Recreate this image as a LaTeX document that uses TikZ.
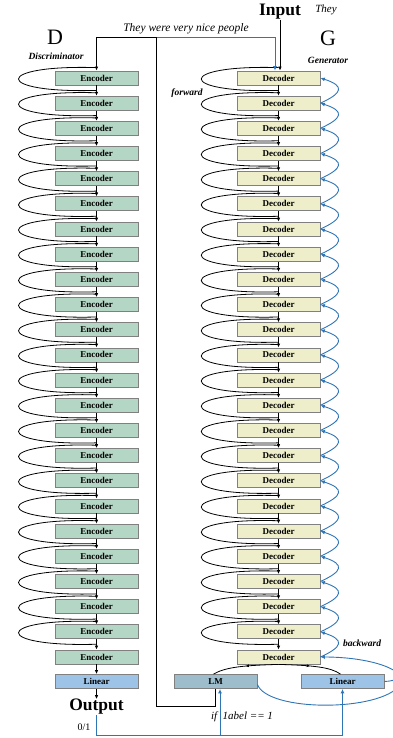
\documentclass[tikz,border=0pt]{standalone}
\usepackage{fontspec}
\setmainfont{Liberation Serif}
\usetikzlibrary{arrows.meta,calc,decorations.markings}
\definecolor{encfill}{RGB}{180,214,196}
\definecolor{decfill}{RGB}{238,238,203}
\definecolor{lmfill}{RGB}{157,189,204}
\definecolor{linfill}{RGB}{157,195,230}
\definecolor{boxline}{RGB}{128,128,128}
\definecolor{bluearr}{RGB}{46,117,182}
\begin{document}
\begin{tikzpicture}[x=1pt,y=-1pt,
  box/.style={draw=boxline,line width=0.8pt,minimum width=83pt,minimum height=14pt,inner sep=0pt,font=\fontsize{9}{9}\selectfont\bfseries},
  encbox/.style={box,fill=encfill},
  decbox/.style={box,fill=decfill},
  arr/.style={line width=0.8pt,-{Latex[length=4pt,width=3.5pt]}},
  loopline/.style={line width=0.8pt},
  bluearrow/.style={draw=bluearr,line width=0.9pt,-{Latex[length=4.5pt,width=4pt]}},
  blueline/.style={draw=bluearr,line width=0.9pt},
  midarr/.style={line width=0.8pt,decoration={markings,mark=at position 0.5 with {\arrow{Latex[length=3.5pt,width=3pt]}}},postaction={decorate}},
  lbl/.style={inner sep=0pt},
  bi/.style={lbl,font=\fontsize{9.5}{10}\selectfont\bfseries\itshape},
]
\useasboundingbox (0,0) rectangle (393,738);
\foreach \i in {1,...,24} {
  \pgfmathsetmacro\yy{78+(\i-1)*25.174}
  \node[encbox] (enc\i) at (96.5,\yy) {Encoder};
  \node[decbox] (dec\i) at (278.5,\yy) {Decoder};
}
\node[box,fill=linfill] (lin1) at (96.5,681.5) {Linear};
\node[box,fill=lmfill] (lm) at (215.5,681.5) {LM};
\node[box,fill=linfill] (lin2) at (342.5,681.5) {Linear};

\foreach \i in {1,...,23} {
  \pgfmathtruncatemacro\j{\i+1}
  \draw[arr] (enc\i.south) -- (enc\j.north);
  \draw[arr] (dec\i.south) -- (dec\j.north);
  \draw[loopline] ($(enc\i.north)+(0,-3)$) .. controls +(-104,-3) and +(-104,3) .. ($(enc\i.south)+(0,5)$);
  \draw[loopline] ($(dec\i.north)+(0,-3)$) .. controls +(-103,-3) and +(-103,3) .. ($(dec\i.south)+(0,5)$);
  \draw[bluearrow] (dec\j.east) .. controls +(22,-10) and +(25,8) .. (dec\i.east);
}

% texts
\node[lbl,font=\fontsize{17.5}{18}\selectfont\bfseries] (input) at (280,12) {Input};
\node[lbl,font=\fontsize{11}{12}\selectfont\itshape] (they) at (326,10) {They};
\node[lbl,font=\fontsize{11.5}{12}\selectfont\itshape] (sent) at (186,29) {They were very nice people};
\node[lbl,font=\fontsize{22}{22}\selectfont] (dl) at (55,37) {D};
\node[lbl,font=\fontsize{22}{22}\selectfont] (gl) at (328,38) {G};
\node[bi] (disc) at (56,56) {Discriminator};
\node[bi] (gen) at (328,60) {Generator};
\node[bi] (fwd) at (187,93) {forward};
\node[bi] (bwd) at (362,643) {backward};
\node[lbl,font=\fontsize{17.5}{18}\selectfont\bfseries] (output) at (96.5,707) {Output};
\node[lbl,font=\fontsize{10}{10}\selectfont] (zo) at (84,727) {0/1};
\node[lbl,font=\fontsize{11}{12}\selectfont\itshape] (iflab) at (242,717) {if\ \ 1abel == 1};

% coordinates
\coordinate (midtop) at (156.5,37);
\coordinate (midbot) at (156.5,706);
\coordinate (bl) at (96.5,735);
\coordinate (br) at (342.5,735);
\coordinate (bm) at (220,735);
\coordinate (offR) at (404,670);

% top connectors
\draw[arr] (input.south) -- (input.south |- dec1.north);
\draw[line width=0.9pt,{Latex[length=4pt,width=3.5pt]}-] (enc1.north) |- (midtop) -- (midbot) -| (lm.south);
\draw[bluearrow] (midtop) -| ([xshift=-3.5pt]dec1.north);

% bottom of encoder stack
\draw[arr] (enc24.south) -- (lin1.north);
\draw[arr] (lin1.south) -- (output.north);

% decoder to heads
\draw[midarr] (dec24.south) .. controls +(-35,1) and +(12,-7) .. ([xshift=-2pt]lm.north);
\draw[midarr] (dec24.south) .. controls +(35,1) and +(-10,-7) .. ([xshift=-2pt]lin2.north);

% bottom blue
\draw[bluearrow] (output.south) -- (bl) -- (br) -- (lin2.south);
\draw[bluearrow] (bm) -- ([xshift=4.5pt]lm.south);

% backward loops from heads
\draw[bluearrow] ($(lm.east)+(0,3)$) .. controls (268,712) and (380,712) .. (400,685) .. controls (410,670) and (370,657) .. (dec24.east);
\draw[blueline] (lin2.east) .. controls (398,681) and (402,676) .. (offR);
\end{tikzpicture}
\end{document}
